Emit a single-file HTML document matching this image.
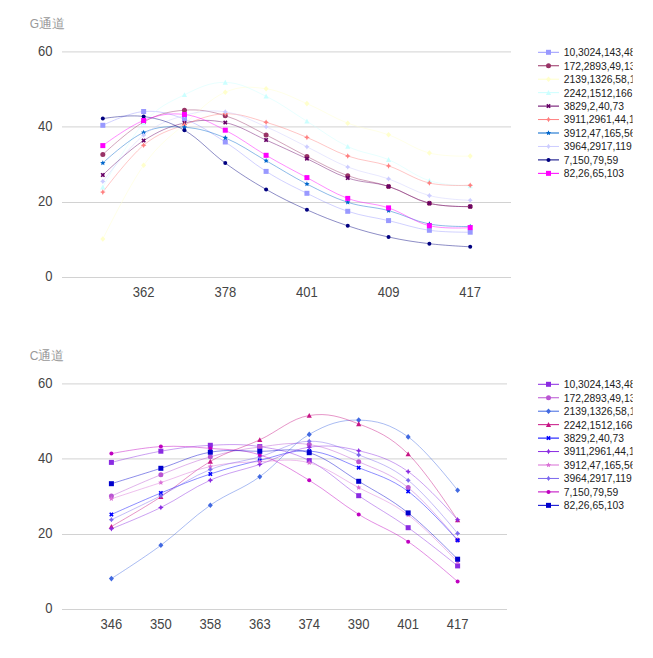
<!DOCTYPE html>
<html><head><meta charset="utf-8"><style>
html,body{margin:0;padding:0;background:#ffffff;width:653px;height:658px;overflow:hidden}
body{position:relative;font-family:'Liberation Sans',sans-serif}
</style></head><body>
<svg width="653" height="658" viewBox="0 0 653 658" style="position:absolute;left:0;top:0;font-family:'Liberation Sans',sans-serif">
<defs><clipPath id="cp"><rect x="0" y="0" width="632.6" height="658"/></clipPath></defs>
<g clip-path="url(#cp)">
<text x="29.8" y="27.5" style="font-size:12px;fill:#999999">G<tspan style="font-size:13px">通道</tspan></text>
<rect x="62" y="51.4" width="449" height="1" fill="#d2d2d2"/>
<text transform="translate(52.5,55.7) scale(0.93,1)" text-anchor="end" style="font-size:14px;fill:#444444">60</text>
<rect x="62" y="126.4" width="449" height="1" fill="#d2d2d2"/>
<text transform="translate(52.5,130.9) scale(0.93,1)" text-anchor="end" style="font-size:14px;fill:#444444">40</text>
<rect x="62" y="202" width="449" height="1" fill="#d2d2d2"/>
<text transform="translate(52.5,206.1) scale(0.93,1)" text-anchor="end" style="font-size:14px;fill:#444444">20</text>
<rect x="62" y="277" width="449" height="1" fill="#d2d2d2"/>
<text transform="translate(52.5,281.3) scale(0.93,1)" text-anchor="end" style="font-size:14px;fill:#444444">0</text>
<text transform="translate(143.64,297.2) scale(0.93,1)" text-anchor="middle" style="font-size:14px;fill:#444444">362</text>
<text transform="translate(225.28,297.2) scale(0.93,1)" text-anchor="middle" style="font-size:14px;fill:#444444">378</text>
<text transform="translate(306.92,297.2) scale(0.93,1)" text-anchor="middle" style="font-size:14px;fill:#444444">401</text>
<text transform="translate(388.56,297.2) scale(0.93,1)" text-anchor="middle" style="font-size:14px;fill:#444444">409</text>
<text transform="translate(470.2,297.2) scale(0.93,1)" text-anchor="middle" style="font-size:14px;fill:#444444">417</text>
<path d="M102.82,125.3C102.82,125.3 128.54,112.65 143.64,111.5C158.74,110.35 169.36,113.46 184.46,119.1C199.56,124.74 210.18,132.32 225.28,142C240.38,151.68 251,161.91 266.1,171.4C281.2,180.89 291.82,185.92 306.92,193.3C322.02,200.68 332.64,206.25 347.74,211.3C362.84,216.35 373.46,217.09 388.56,220.6C403.66,224.11 414.28,228.15 429.38,230.3C444.48,232.45 470.2,232.2 470.2,232.2" fill="none" stroke="#9999FF" stroke-width="0.75" stroke-opacity="0.6"/>
<path d="M102.82,154.6C102.82,154.6 128.54,130.21 143.64,122C158.74,113.79 169.36,111.37 184.46,110.2C199.56,109.03 210.18,111.13 225.28,115.7C240.38,120.27 251,127.37 266.1,134.9C281.2,142.43 291.82,148.85 306.92,156.4C322.02,163.95 332.64,170.15 347.74,175.7C362.84,181.25 373.46,181.29 388.56,186.4C403.66,191.51 414.28,199.56 429.38,203.3C444.48,207.04 470.2,206.6 470.2,206.6" fill="none" stroke="#993366" stroke-width="0.75" stroke-opacity="0.6"/>
<path d="M102.82,239C102.82,239 128.54,186.58 143.64,165.3C158.74,144.03 169.36,137.52 184.46,124C199.56,110.48 210.18,98.71 225.28,92.2C240.38,85.69 251,86.69 266.1,88.8C281.2,90.91 291.82,97.24 306.92,103.6C322.02,109.96 332.64,117.43 347.74,123.2C362.84,128.97 373.46,129.29 388.56,134.8C403.66,140.31 414.28,149.06 429.38,153C444.48,156.94 470.2,156.1 470.2,156.1" fill="none" stroke="#FFFFCC" stroke-width="0.75" stroke-opacity="0.6"/>
<path d="M102.82,187.1C102.82,187.1 128.54,140.08 143.64,123C158.74,105.92 169.36,102.31 184.46,94.8C199.56,87.29 210.18,82.12 225.28,82.4C240.38,82.68 251,89.1 266.1,96.3C281.2,103.5 291.82,112.01 306.92,121.3C322.02,130.59 332.64,139.4 347.74,146.5C362.84,153.6 373.46,153.37 388.56,159.7C403.66,166.03 414.28,175.83 429.38,180.7C444.48,185.57 470.2,186 470.2,186" fill="none" stroke="#CCFFFF" stroke-width="0.75" stroke-opacity="0.6"/>
<path d="M102.82,175C102.82,175 128.54,150.22 143.64,140.6C158.74,130.98 169.36,126.33 184.46,123C199.56,119.67 210.18,119.45 225.28,122.6C240.38,125.74 251,133.32 266.1,140C281.2,146.68 291.82,151.67 306.92,158.7C322.02,165.73 332.64,172.88 347.74,178C362.84,183.12 373.46,181.72 388.56,186.4C403.66,191.08 414.28,199.56 429.38,203.3C444.48,207.04 470.2,206.6 470.2,206.6" fill="none" stroke="#660066" stroke-width="0.75" stroke-opacity="0.6"/>
<path d="M102.82,192.1C102.82,192.1 128.54,157.67 143.64,145.2C158.74,132.73 169.36,130.51 184.46,124.7C199.56,118.89 210.18,114.24 225.28,113.8C240.38,113.36 251,117.93 266.1,122.3C281.2,126.67 291.82,131.17 306.92,137.4C322.02,143.63 332.64,150.73 347.74,156C362.84,161.27 373.46,160.91 388.56,165.9C403.66,170.9 414.28,179.43 429.38,183C444.48,186.57 470.2,185.2 470.2,185.2" fill="none" stroke="#FF8080" stroke-width="0.75" stroke-opacity="0.6"/>
<path d="M102.82,163C102.82,163 128.54,139.1 143.64,132.5C158.74,125.9 169.36,126.3 184.46,127.3C199.56,128.3 210.18,131.72 225.28,137.9C240.38,144.08 251,152.17 266.1,160.7C281.2,169.23 291.82,176.3 306.92,184C322.02,191.7 332.64,197.38 347.74,202.3C362.84,207.22 373.46,206.59 388.56,210.6C403.66,214.61 414.28,221.06 429.38,224C444.48,226.94 470.2,226.5 470.2,226.5" fill="none" stroke="#0066CC" stroke-width="0.75" stroke-opacity="0.6"/>
<path d="M102.82,181.4C102.82,181.4 128.54,147.39 143.64,135.2C158.74,123.01 169.36,119.81 184.46,115.5C199.56,111.19 210.18,109.81 225.28,111.9C240.38,113.99 251,120.34 266.1,126.8C281.2,133.26 291.82,139.36 306.92,146.8C322.02,154.24 332.64,161.06 347.74,167C362.84,172.94 373.46,173.61 388.56,178.9C403.66,184.19 414.28,191.64 429.38,195.6C444.48,199.56 470.2,200.3 470.2,200.3" fill="none" stroke="#CCCCFF" stroke-width="0.75" stroke-opacity="0.6"/>
<path d="M102.82,118.6C102.82,118.6 128.54,114.34 143.64,116.5C158.74,118.66 169.36,121.68 184.46,130.3C199.56,138.92 210.18,152.17 225.28,163.1C240.38,174.03 251,180.76 266.1,189.4C281.2,198.04 291.82,203.07 306.92,209.8C322.02,216.53 332.64,220.77 347.74,225.8C362.84,230.83 373.46,233.69 388.56,237C403.66,240.31 414.28,241.89 429.38,243.7C444.48,245.51 470.2,246.8 470.2,246.8" fill="none" stroke="#000080" stroke-width="0.75" stroke-opacity="0.6"/>
<path d="M102.82,145.6C102.82,145.6 128.54,126.25 143.64,120.5C158.74,114.75 169.36,112.71 184.46,114.5C199.56,116.29 210.18,122.65 225.28,130.2C240.38,137.75 251,146.53 266.1,155.3C281.2,164.07 291.82,169.63 306.92,177.6C322.02,185.57 332.64,192.79 347.74,198.4C362.84,204.01 373.46,202.85 388.56,207.9C403.66,212.95 414.28,222.06 429.38,225.7C444.48,229.34 470.2,227.6 470.2,227.6" fill="none" stroke="#FF00FF" stroke-width="0.75" stroke-opacity="0.6"/>
<rect x="100.32" y="122.8" width="5" height="5" fill="#9999FF"/>
<rect x="141.14" y="109" width="5" height="5" fill="#9999FF"/>
<rect x="181.96" y="116.6" width="5" height="5" fill="#9999FF"/>
<rect x="222.78" y="139.5" width="5" height="5" fill="#9999FF"/>
<rect x="263.6" y="168.9" width="5" height="5" fill="#9999FF"/>
<rect x="304.42" y="190.8" width="5" height="5" fill="#9999FF"/>
<rect x="345.24" y="208.8" width="5" height="5" fill="#9999FF"/>
<rect x="386.06" y="218.1" width="5" height="5" fill="#9999FF"/>
<rect x="426.88" y="227.8" width="5" height="5" fill="#9999FF"/>
<rect x="467.7" y="229.7" width="5" height="5" fill="#9999FF"/>
<circle cx="102.82" cy="154.6" r="2.5" fill="#993366"/>
<circle cx="143.64" cy="122" r="2.5" fill="#993366"/>
<circle cx="184.46" cy="110.2" r="2.5" fill="#993366"/>
<circle cx="225.28" cy="115.7" r="2.5" fill="#993366"/>
<circle cx="266.1" cy="134.9" r="2.5" fill="#993366"/>
<circle cx="306.92" cy="156.4" r="2.5" fill="#993366"/>
<circle cx="347.74" cy="175.7" r="2.5" fill="#993366"/>
<circle cx="388.56" cy="186.4" r="2.5" fill="#993366"/>
<circle cx="429.38" cy="203.3" r="2.5" fill="#993366"/>
<circle cx="470.2" cy="206.6" r="2.5" fill="#993366"/>
<polygon points="102.82,236.2 105.32,239 102.82,241.8 100.32,239" fill="#FFFFCC"/>
<polygon points="143.64,162.5 146.14,165.3 143.64,168.1 141.14,165.3" fill="#FFFFCC"/>
<polygon points="184.46,121.2 186.96,124 184.46,126.8 181.96,124" fill="#FFFFCC"/>
<polygon points="225.28,89.4 227.78,92.2 225.28,95 222.78,92.2" fill="#FFFFCC"/>
<polygon points="266.1,86 268.6,88.8 266.1,91.6 263.6,88.8" fill="#FFFFCC"/>
<polygon points="306.92,100.8 309.42,103.6 306.92,106.4 304.42,103.6" fill="#FFFFCC"/>
<polygon points="347.74,120.4 350.24,123.2 347.74,126 345.24,123.2" fill="#FFFFCC"/>
<polygon points="388.56,132 391.06,134.8 388.56,137.6 386.06,134.8" fill="#FFFFCC"/>
<polygon points="429.38,150.2 431.88,153 429.38,155.8 426.88,153" fill="#FFFFCC"/>
<polygon points="470.2,153.3 472.7,156.1 470.2,158.9 467.7,156.1" fill="#FFFFCC"/>
<polygon points="102.82,184.5 105.42,189.4 100.22,189.4" fill="#CCFFFF"/>
<polygon points="143.64,120.4 146.24,125.3 141.04,125.3" fill="#CCFFFF"/>
<polygon points="184.46,92.2 187.06,97.1 181.86,97.1" fill="#CCFFFF"/>
<polygon points="225.28,79.8 227.88,84.7 222.68,84.7" fill="#CCFFFF"/>
<polygon points="266.1,93.7 268.7,98.6 263.5,98.6" fill="#CCFFFF"/>
<polygon points="306.92,118.7 309.52,123.6 304.32,123.6" fill="#CCFFFF"/>
<polygon points="347.74,143.9 350.34,148.8 345.14,148.8" fill="#CCFFFF"/>
<polygon points="388.56,157.1 391.16,162 385.96,162" fill="#CCFFFF"/>
<polygon points="429.38,178.1 431.98,183 426.78,183" fill="#CCFFFF"/>
<polygon points="470.2,183.4 472.8,188.3 467.6,188.3" fill="#CCFFFF"/>
<polygon points="105.08,173.87 103.95,175 105.08,176.13 103.95,177.26 102.82,176.13 101.69,177.26 100.56,176.13 101.69,175 100.56,173.87 101.69,172.74 102.82,173.87 103.95,172.74" fill="#660066"/>
<polygon points="145.9,139.47 144.77,140.6 145.9,141.73 144.77,142.86 143.64,141.73 142.51,142.86 141.38,141.73 142.51,140.6 141.38,139.47 142.51,138.34 143.64,139.47 144.77,138.34" fill="#660066"/>
<polygon points="186.72,121.87 185.59,123 186.72,124.13 185.59,125.26 184.46,124.13 183.33,125.26 182.2,124.13 183.33,123 182.2,121.87 183.33,120.74 184.46,121.87 185.59,120.74" fill="#660066"/>
<polygon points="227.54,121.47 226.41,122.6 227.54,123.73 226.41,124.86 225.28,123.73 224.15,124.86 223.02,123.73 224.15,122.6 223.02,121.47 224.15,120.34 225.28,121.47 226.41,120.34" fill="#660066"/>
<polygon points="268.36,138.87 267.23,140 268.36,141.13 267.23,142.26 266.1,141.13 264.97,142.26 263.84,141.13 264.97,140 263.84,138.87 264.97,137.74 266.1,138.87 267.23,137.74" fill="#660066"/>
<polygon points="309.18,157.57 308.05,158.7 309.18,159.83 308.05,160.96 306.92,159.83 305.79,160.96 304.66,159.83 305.79,158.7 304.66,157.57 305.79,156.44 306.92,157.57 308.05,156.44" fill="#660066"/>
<polygon points="350,176.87 348.87,178 350,179.13 348.87,180.26 347.74,179.13 346.61,180.26 345.48,179.13 346.61,178 345.48,176.87 346.61,175.74 347.74,176.87 348.87,175.74" fill="#660066"/>
<polygon points="390.82,185.27 389.69,186.4 390.82,187.53 389.69,188.66 388.56,187.53 387.43,188.66 386.3,187.53 387.43,186.4 386.3,185.27 387.43,184.14 388.56,185.27 389.69,184.14" fill="#660066"/>
<polygon points="431.64,202.17 430.51,203.3 431.64,204.43 430.51,205.56 429.38,204.43 428.25,205.56 427.12,204.43 428.25,203.3 427.12,202.17 428.25,201.04 429.38,202.17 430.51,201.04" fill="#660066"/>
<polygon points="472.46,205.47 471.33,206.6 472.46,207.73 471.33,208.86 470.2,207.73 469.07,208.86 467.94,207.73 469.07,206.6 467.94,205.47 469.07,204.34 470.2,205.47 471.33,204.34" fill="#660066"/>
<polygon points="102.82,189.3 103.77,191.15 105.62,192.1 103.77,193.05 102.82,194.9 101.87,193.05 100.02,192.1 101.87,191.15" fill="#FF8080"/>
<polygon points="143.64,142.4 144.59,144.25 146.44,145.2 144.59,146.15 143.64,148 142.69,146.15 140.84,145.2 142.69,144.25" fill="#FF8080"/>
<polygon points="184.46,121.9 185.41,123.75 187.26,124.7 185.41,125.65 184.46,127.5 183.51,125.65 181.66,124.7 183.51,123.75" fill="#FF8080"/>
<polygon points="225.28,111 226.23,112.85 228.08,113.8 226.23,114.75 225.28,116.6 224.33,114.75 222.48,113.8 224.33,112.85" fill="#FF8080"/>
<polygon points="266.1,119.5 267.05,121.35 268.9,122.3 267.05,123.25 266.1,125.1 265.15,123.25 263.3,122.3 265.15,121.35" fill="#FF8080"/>
<polygon points="306.92,134.6 307.87,136.45 309.72,137.4 307.87,138.35 306.92,140.2 305.97,138.35 304.12,137.4 305.97,136.45" fill="#FF8080"/>
<polygon points="347.74,153.2 348.69,155.05 350.54,156 348.69,156.95 347.74,158.8 346.79,156.95 344.94,156 346.79,155.05" fill="#FF8080"/>
<polygon points="388.56,163.1 389.51,164.95 391.36,165.9 389.51,166.85 388.56,168.7 387.61,166.85 385.76,165.9 387.61,164.95" fill="#FF8080"/>
<polygon points="429.38,180.2 430.33,182.05 432.18,183 430.33,183.95 429.38,185.8 428.43,183.95 426.58,183 428.43,182.05" fill="#FF8080"/>
<polygon points="470.2,182.4 471.15,184.25 473,185.2 471.15,186.15 470.2,188 469.25,186.15 467.4,185.2 469.25,184.25" fill="#FF8080"/>
<polygon points="102.82,160.2 103.58,161.95 105.48,162.13 104.06,163.4 104.47,165.27 102.82,164.3 101.17,165.27 101.58,163.4 100.16,162.13 102.06,161.95" fill="#0066CC"/>
<polygon points="143.64,129.7 144.4,131.45 146.3,131.63 144.88,132.9 145.29,134.77 143.64,133.8 141.99,134.77 142.4,132.9 140.98,131.63 142.88,131.45" fill="#0066CC"/>
<polygon points="184.46,124.5 185.22,126.25 187.12,126.43 185.7,127.7 186.11,129.57 184.46,128.6 182.81,129.57 183.22,127.7 181.8,126.43 183.7,126.25" fill="#0066CC"/>
<polygon points="225.28,135.1 226.04,136.85 227.94,137.03 226.52,138.3 226.93,140.17 225.28,139.2 223.63,140.17 224.04,138.3 222.62,137.03 224.52,136.85" fill="#0066CC"/>
<polygon points="266.1,157.9 266.86,159.65 268.76,159.83 267.34,161.1 267.75,162.97 266.1,162 264.45,162.97 264.86,161.1 263.44,159.83 265.34,159.65" fill="#0066CC"/>
<polygon points="306.92,181.2 307.68,182.95 309.58,183.13 308.16,184.4 308.57,186.27 306.92,185.3 305.27,186.27 305.68,184.4 304.26,183.13 306.16,182.95" fill="#0066CC"/>
<polygon points="347.74,199.5 348.5,201.25 350.4,201.43 348.98,202.7 349.39,204.57 347.74,203.6 346.09,204.57 346.5,202.7 345.08,201.43 346.98,201.25" fill="#0066CC"/>
<polygon points="388.56,207.8 389.32,209.55 391.22,209.73 389.8,211 390.21,212.87 388.56,211.9 386.91,212.87 387.32,211 385.9,209.73 387.8,209.55" fill="#0066CC"/>
<polygon points="429.38,221.2 430.14,222.95 432.04,223.13 430.62,224.4 431.03,226.27 429.38,225.3 427.73,226.27 428.14,224.4 426.72,223.13 428.62,222.95" fill="#0066CC"/>
<polygon points="470.2,223.7 470.96,225.45 472.86,225.63 471.44,226.9 471.85,228.77 470.2,227.8 468.55,228.77 468.96,226.9 467.54,225.63 469.44,225.45" fill="#0066CC"/>
<polygon points="102.82,178.8 103.88,180.34 105.42,181.4 103.88,182.46 102.82,184 101.76,182.46 100.22,181.4 101.76,180.34" fill="#CCCCFF"/>
<polygon points="143.64,132.6 144.7,134.14 146.24,135.2 144.7,136.26 143.64,137.8 142.58,136.26 141.04,135.2 142.58,134.14" fill="#CCCCFF"/>
<polygon points="184.46,112.9 185.52,114.44 187.06,115.5 185.52,116.56 184.46,118.1 183.4,116.56 181.86,115.5 183.4,114.44" fill="#CCCCFF"/>
<polygon points="225.28,109.3 226.34,110.84 227.88,111.9 226.34,112.96 225.28,114.5 224.22,112.96 222.68,111.9 224.22,110.84" fill="#CCCCFF"/>
<polygon points="266.1,124.2 267.16,125.74 268.7,126.8 267.16,127.86 266.1,129.4 265.04,127.86 263.5,126.8 265.04,125.74" fill="#CCCCFF"/>
<polygon points="306.92,144.2 307.98,145.74 309.52,146.8 307.98,147.86 306.92,149.4 305.86,147.86 304.32,146.8 305.86,145.74" fill="#CCCCFF"/>
<polygon points="347.74,164.4 348.8,165.94 350.34,167 348.8,168.06 347.74,169.6 346.68,168.06 345.14,167 346.68,165.94" fill="#CCCCFF"/>
<polygon points="388.56,176.3 389.62,177.84 391.16,178.9 389.62,179.96 388.56,181.5 387.5,179.96 385.96,178.9 387.5,177.84" fill="#CCCCFF"/>
<polygon points="429.38,193 430.44,194.54 431.98,195.6 430.44,196.66 429.38,198.2 428.32,196.66 426.78,195.6 428.32,194.54" fill="#CCCCFF"/>
<polygon points="470.2,197.7 471.26,199.24 472.8,200.3 471.26,201.36 470.2,202.9 469.14,201.36 467.6,200.3 469.14,199.24" fill="#CCCCFF"/>
<circle cx="102.82" cy="118.6" r="2.0" fill="#000080"/>
<circle cx="143.64" cy="116.5" r="2.0" fill="#000080"/>
<circle cx="184.46" cy="130.3" r="2.0" fill="#000080"/>
<circle cx="225.28" cy="163.1" r="2.0" fill="#000080"/>
<circle cx="266.1" cy="189.4" r="2.0" fill="#000080"/>
<circle cx="306.92" cy="209.8" r="2.0" fill="#000080"/>
<circle cx="347.74" cy="225.8" r="2.0" fill="#000080"/>
<circle cx="388.56" cy="237" r="2.0" fill="#000080"/>
<circle cx="429.38" cy="243.7" r="2.0" fill="#000080"/>
<circle cx="470.2" cy="246.8" r="2.0" fill="#000080"/>
<rect x="100.32" y="143.1" width="5" height="5" fill="#FF00FF"/>
<rect x="141.14" y="118" width="5" height="5" fill="#FF00FF"/>
<rect x="181.96" y="112" width="5" height="5" fill="#FF00FF"/>
<rect x="222.78" y="127.7" width="5" height="5" fill="#FF00FF"/>
<rect x="263.6" y="152.8" width="5" height="5" fill="#FF00FF"/>
<rect x="304.42" y="175.1" width="5" height="5" fill="#FF00FF"/>
<rect x="345.24" y="195.9" width="5" height="5" fill="#FF00FF"/>
<rect x="386.06" y="205.4" width="5" height="5" fill="#FF00FF"/>
<rect x="426.88" y="223.2" width="5" height="5" fill="#FF00FF"/>
<rect x="467.7" y="225.1" width="5" height="5" fill="#FF00FF"/>
<rect x="538" y="51.8" width="21" height="1" fill="#9999FF"/>
<rect x="546" y="49.8" width="5" height="5" fill="#9999FF"/>
<text transform="translate(563.7,56.2) scale(0.94,1)" style="font-size:11px;fill:#222222">10,3024,143,48,</text>
<rect x="538" y="65.25" width="21" height="1" fill="#993366"/>
<circle cx="548.5" cy="65.75" r="2.5" fill="#993366"/>
<text transform="translate(563.7,69.65) scale(0.94,1)" style="font-size:11px;fill:#222222">172,2893,49,13,</text>
<rect x="538" y="78.7" width="21" height="1" fill="#FFFFCC"/>
<polygon points="548.5,76.4 551,79.2 548.5,82 546,79.2" fill="#FFFFCC"/>
<text transform="translate(563.7,83.1) scale(0.94,1)" style="font-size:11px;fill:#222222">2139,1326,58,1,</text>
<rect x="538" y="92.15" width="21" height="1" fill="#CCFFFF"/>
<polygon points="548.5,90.05 551.1,94.95 545.9,94.95" fill="#CCFFFF"/>
<text transform="translate(563.7,96.55) scale(0.94,1)" style="font-size:11px;fill:#222222">2242,1512,166,</text>
<rect x="538" y="105.6" width="21" height="1" fill="#660066"/>
<polygon points="550.76,104.97 549.63,106.1 550.76,107.23 549.63,108.36 548.5,107.23 547.37,108.36 546.24,107.23 547.37,106.1 546.24,104.97 547.37,103.84 548.5,104.97 549.63,103.84" fill="#660066"/>
<text transform="translate(563.7,110) scale(0.94,1)" style="font-size:11px;fill:#222222">3829,2,40,73</text>
<rect x="538" y="119.05" width="21" height="1" fill="#FF8080"/>
<polygon points="548.5,116.75 549.45,118.6 551.3,119.55 549.45,120.5 548.5,122.35 547.55,120.5 545.7,119.55 547.55,118.6" fill="#FF8080"/>
<text transform="translate(563.7,123.45) scale(0.94,1)" style="font-size:11px;fill:#222222">3911,2961,44,1,</text>
<rect x="538" y="132.5" width="21" height="1" fill="#0066CC"/>
<polygon points="548.5,130.2 549.26,131.95 551.16,132.13 549.74,133.4 550.15,135.27 548.5,134.3 546.85,135.27 547.26,133.4 545.84,132.13 547.74,131.95" fill="#0066CC"/>
<text transform="translate(563.7,136.9) scale(0.94,1)" style="font-size:11px;fill:#222222">3912,47,165,56,</text>
<rect x="538" y="145.95" width="21" height="1" fill="#CCCCFF"/>
<polygon points="548.5,143.85 549.56,145.39 551.1,146.45 549.56,147.51 548.5,149.05 547.44,147.51 545.9,146.45 547.44,145.39" fill="#CCCCFF"/>
<text transform="translate(563.7,150.35) scale(0.94,1)" style="font-size:11px;fill:#222222">3964,2917,119</text>
<rect x="538" y="159.4" width="21" height="1" fill="#000080"/>
<circle cx="548.5" cy="159.9" r="2.0" fill="#000080"/>
<text transform="translate(563.7,163.8) scale(0.94,1)" style="font-size:11px;fill:#222222">7,150,79,59</text>
<rect x="538" y="172.85" width="21" height="1" fill="#FF00FF"/>
<rect x="546" y="170.85" width="5" height="5" fill="#FF00FF"/>
<text transform="translate(563.7,177.25) scale(0.94,1)" style="font-size:11px;fill:#222222">82,26,65,103</text>
<text x="29.8" y="359.5" style="font-size:12px;fill:#999999">C<tspan style="font-size:13px">通道</tspan></text>
<rect x="62" y="383.4" width="445" height="1" fill="#d2d2d2"/>
<text transform="translate(52.5,387.7) scale(0.93,1)" text-anchor="end" style="font-size:14px;fill:#444444">60</text>
<rect x="62" y="458.4" width="445" height="1" fill="#d2d2d2"/>
<text transform="translate(52.5,462.9) scale(0.93,1)" text-anchor="end" style="font-size:14px;fill:#444444">40</text>
<rect x="62" y="534" width="445" height="1" fill="#d2d2d2"/>
<text transform="translate(52.5,538.1) scale(0.93,1)" text-anchor="end" style="font-size:14px;fill:#444444">20</text>
<rect x="62" y="609" width="445" height="1" fill="#d2d2d2"/>
<text transform="translate(52.5,613.3) scale(0.93,1)" text-anchor="end" style="font-size:14px;fill:#444444">0</text>
<text transform="translate(111.4,629.2) scale(0.93,1)" text-anchor="middle" style="font-size:14px;fill:#444444">346</text>
<text transform="translate(160.86,629.2) scale(0.93,1)" text-anchor="middle" style="font-size:14px;fill:#444444">350</text>
<text transform="translate(210.32,629.2) scale(0.93,1)" text-anchor="middle" style="font-size:14px;fill:#444444">358</text>
<text transform="translate(259.78,629.2) scale(0.93,1)" text-anchor="middle" style="font-size:14px;fill:#444444">363</text>
<text transform="translate(309.24,629.2) scale(0.93,1)" text-anchor="middle" style="font-size:14px;fill:#444444">374</text>
<text transform="translate(358.7,629.2) scale(0.93,1)" text-anchor="middle" style="font-size:14px;fill:#444444">390</text>
<text transform="translate(408.16,629.2) scale(0.93,1)" text-anchor="middle" style="font-size:14px;fill:#444444">401</text>
<text transform="translate(457.62,629.2) scale(0.93,1)" text-anchor="middle" style="font-size:14px;fill:#444444">417</text>
<path d="M111.4,462.4C111.4,462.4 142.56,454.36 160.86,451.2C179.16,448.04 192.02,446.15 210.32,445.3C228.62,444.45 241.48,443.77 259.78,446.6C278.08,449.43 290.94,451.52 309.24,460.6C327.54,469.68 340.4,483.29 358.7,495.7C377,508.11 389.86,514.71 408.16,527.7C426.46,540.69 457.62,565.9 457.62,565.9" fill="none" stroke="#8A2BE2" stroke-width="0.75" stroke-opacity="0.6"/>
<path d="M111.4,496.1C111.4,496.1 142.56,482.07 160.86,474.8C179.16,467.53 192.02,461.94 210.32,456.8C228.62,451.66 241.48,449.28 259.78,447C278.08,444.72 290.94,441.76 309.24,444.5C327.54,447.24 340.4,453.83 358.7,461.8C377,469.77 389.86,473.13 408.16,487.6C426.46,502.07 457.62,540 457.62,540" fill="none" stroke="#BA55D3" stroke-width="0.75" stroke-opacity="0.6"/>
<path d="M111.4,578.6C111.4,578.6 142.56,558.88 160.86,545.3C179.16,531.72 192.02,517.89 210.32,505.2C228.62,492.51 241.48,489.8 259.78,476.7C278.08,463.6 290.94,444.87 309.24,434.4C327.54,423.93 340.4,419.64 358.7,420.1C377,420.56 389.86,423.91 408.16,436.9C426.46,449.89 457.62,490.3 457.62,490.3" fill="none" stroke="#4169E1" stroke-width="0.75" stroke-opacity="0.6"/>
<path d="M111.4,526.5C111.4,526.5 142.56,508.84 160.86,496.8C179.16,484.76 192.02,471.94 210.32,461.4C228.62,450.85 241.48,448.29 259.78,439.8C278.08,431.31 290.94,418.44 309.24,415.5C327.54,412.56 340.4,416.78 358.7,423.9C377,431.02 389.86,436.22 408.16,454C426.46,471.78 457.62,520 457.62,520" fill="none" stroke="#C71585" stroke-width="0.75" stroke-opacity="0.6"/>
<path d="M111.4,514.5C111.4,514.5 142.56,500.49 160.86,493C179.16,485.51 192.02,480.05 210.32,474C228.62,467.95 241.48,464.56 259.78,460.3C278.08,456.05 290.94,449.63 309.24,451C327.54,452.37 340.4,460.23 358.7,467.7C377,475.17 389.86,477.97 408.16,491.4C426.46,504.83 457.62,540.3 457.62,540.3" fill="none" stroke="#0000FF" stroke-width="0.75" stroke-opacity="0.6"/>
<path d="M111.4,528.8C111.4,528.8 142.56,516.49 160.86,507.5C179.16,498.51 192.02,488.17 210.32,480.2C228.62,472.23 241.48,470.5 259.78,464.4C278.08,458.29 290.94,449.73 309.24,447.2C327.54,444.67 340.4,446.19 358.7,450.7C377,455.21 389.86,458.82 408.16,471.6C426.46,484.38 457.62,519.8 457.62,519.8" fill="none" stroke="#8A2BE2" stroke-width="0.75" stroke-opacity="0.6"/>
<path d="M111.4,498.8C111.4,498.8 142.56,488.58 160.86,482.6C179.16,476.62 192.02,470.37 210.32,466.5C228.62,462.63 241.48,462.38 259.78,461.7C278.08,461.02 290.94,458.01 309.24,462.8C327.54,467.59 340.4,477.94 358.7,487.6C377,497.26 389.86,501.24 408.16,515C426.46,528.76 457.62,562 457.62,562" fill="none" stroke="#DA70D6" stroke-width="0.75" stroke-opacity="0.6"/>
<path d="M111.4,519.7C111.4,519.7 142.56,504.99 160.86,495.7C179.16,486.41 192.02,476.7 210.32,469.5C228.62,462.3 241.48,462.04 259.78,456.8C278.08,451.56 290.94,441.55 309.24,441.2C327.54,440.85 340.4,447.67 358.7,454.9C377,462.13 389.86,465.78 408.16,480.3C426.46,494.82 457.62,533.4 457.62,533.4" fill="none" stroke="#7B68EE" stroke-width="0.75" stroke-opacity="0.6"/>
<path d="M111.4,453.6C111.4,453.6 142.56,447.56 160.86,446.6C179.16,445.64 192.02,446.86 210.32,448.4C228.62,449.94 241.48,449 259.78,454.9C278.08,460.8 290.94,469.29 309.24,480.3C327.54,491.31 340.4,503.04 358.7,514.4C377,525.76 389.86,529.27 408.16,541.7C426.46,554.13 457.62,581.6 457.62,581.6" fill="none" stroke="#C000C0" stroke-width="0.75" stroke-opacity="0.6"/>
<path d="M111.4,483.7C111.4,483.7 142.56,474.13 160.86,468.3C179.16,462.47 192.02,455.34 210.32,452.2C228.62,449.06 241.48,451.21 259.78,451.3C278.08,451.39 290.94,447.15 309.24,452.7C327.54,458.25 340.4,470.16 358.7,481.3C377,492.44 389.86,498.49 408.16,512.9C426.46,527.31 457.62,559.2 457.62,559.2" fill="none" stroke="#0000CD" stroke-width="0.75" stroke-opacity="0.6"/>
<rect x="108.9" y="459.9" width="5" height="5" fill="#8A2BE2"/>
<rect x="158.36" y="448.7" width="5" height="5" fill="#8A2BE2"/>
<rect x="207.82" y="442.8" width="5" height="5" fill="#8A2BE2"/>
<rect x="257.28" y="444.1" width="5" height="5" fill="#8A2BE2"/>
<rect x="306.74" y="458.1" width="5" height="5" fill="#8A2BE2"/>
<rect x="356.2" y="493.2" width="5" height="5" fill="#8A2BE2"/>
<rect x="405.66" y="525.2" width="5" height="5" fill="#8A2BE2"/>
<rect x="455.12" y="563.4" width="5" height="5" fill="#8A2BE2"/>
<circle cx="111.4" cy="496.1" r="2.5" fill="#BA55D3"/>
<circle cx="160.86" cy="474.8" r="2.5" fill="#BA55D3"/>
<circle cx="210.32" cy="456.8" r="2.5" fill="#BA55D3"/>
<circle cx="259.78" cy="447" r="2.5" fill="#BA55D3"/>
<circle cx="309.24" cy="444.5" r="2.5" fill="#BA55D3"/>
<circle cx="358.7" cy="461.8" r="2.5" fill="#BA55D3"/>
<circle cx="408.16" cy="487.6" r="2.5" fill="#BA55D3"/>
<circle cx="457.62" cy="540" r="2.5" fill="#BA55D3"/>
<polygon points="111.4,575.8 113.9,578.6 111.4,581.4 108.9,578.6" fill="#4169E1"/>
<polygon points="160.86,542.5 163.36,545.3 160.86,548.1 158.36,545.3" fill="#4169E1"/>
<polygon points="210.32,502.4 212.82,505.2 210.32,508 207.82,505.2" fill="#4169E1"/>
<polygon points="259.78,473.9 262.28,476.7 259.78,479.5 257.28,476.7" fill="#4169E1"/>
<polygon points="309.24,431.6 311.74,434.4 309.24,437.2 306.74,434.4" fill="#4169E1"/>
<polygon points="358.7,417.3 361.2,420.1 358.7,422.9 356.2,420.1" fill="#4169E1"/>
<polygon points="408.16,434.1 410.66,436.9 408.16,439.7 405.66,436.9" fill="#4169E1"/>
<polygon points="457.62,487.5 460.12,490.3 457.62,493.1 455.12,490.3" fill="#4169E1"/>
<polygon points="111.4,523.9 114,528.8 108.8,528.8" fill="#C71585"/>
<polygon points="160.86,494.2 163.46,499.1 158.26,499.1" fill="#C71585"/>
<polygon points="210.32,458.8 212.92,463.7 207.72,463.7" fill="#C71585"/>
<polygon points="259.78,437.2 262.38,442.1 257.18,442.1" fill="#C71585"/>
<polygon points="309.24,412.9 311.84,417.8 306.64,417.8" fill="#C71585"/>
<polygon points="358.7,421.3 361.3,426.2 356.1,426.2" fill="#C71585"/>
<polygon points="408.16,451.4 410.76,456.3 405.56,456.3" fill="#C71585"/>
<polygon points="457.62,517.4 460.22,522.3 455.02,522.3" fill="#C71585"/>
<polygon points="113.66,513.37 112.53,514.5 113.66,515.63 112.53,516.76 111.4,515.63 110.27,516.76 109.14,515.63 110.27,514.5 109.14,513.37 110.27,512.24 111.4,513.37 112.53,512.24" fill="#0000FF"/>
<polygon points="163.12,491.87 161.99,493 163.12,494.13 161.99,495.26 160.86,494.13 159.73,495.26 158.6,494.13 159.73,493 158.6,491.87 159.73,490.74 160.86,491.87 161.99,490.74" fill="#0000FF"/>
<polygon points="212.58,472.87 211.45,474 212.58,475.13 211.45,476.26 210.32,475.13 209.19,476.26 208.06,475.13 209.19,474 208.06,472.87 209.19,471.74 210.32,472.87 211.45,471.74" fill="#0000FF"/>
<polygon points="262.04,459.17 260.91,460.3 262.04,461.43 260.91,462.56 259.78,461.43 258.65,462.56 257.52,461.43 258.65,460.3 257.52,459.17 258.65,458.04 259.78,459.17 260.91,458.04" fill="#0000FF"/>
<polygon points="311.5,449.87 310.37,451 311.5,452.13 310.37,453.26 309.24,452.13 308.11,453.26 306.98,452.13 308.11,451 306.98,449.87 308.11,448.74 309.24,449.87 310.37,448.74" fill="#0000FF"/>
<polygon points="360.96,466.57 359.83,467.7 360.96,468.83 359.83,469.96 358.7,468.83 357.57,469.96 356.44,468.83 357.57,467.7 356.44,466.57 357.57,465.44 358.7,466.57 359.83,465.44" fill="#0000FF"/>
<polygon points="410.42,490.27 409.29,491.4 410.42,492.53 409.29,493.66 408.16,492.53 407.03,493.66 405.9,492.53 407.03,491.4 405.9,490.27 407.03,489.14 408.16,490.27 409.29,489.14" fill="#0000FF"/>
<polygon points="459.88,539.17 458.75,540.3 459.88,541.43 458.75,542.56 457.62,541.43 456.49,542.56 455.36,541.43 456.49,540.3 455.36,539.17 456.49,538.04 457.62,539.17 458.75,538.04" fill="#0000FF"/>
<polygon points="111.4,526 112.35,527.85 114.2,528.8 112.35,529.75 111.4,531.6 110.45,529.75 108.6,528.8 110.45,527.85" fill="#8A2BE2"/>
<polygon points="160.86,504.7 161.81,506.55 163.66,507.5 161.81,508.45 160.86,510.3 159.91,508.45 158.06,507.5 159.91,506.55" fill="#8A2BE2"/>
<polygon points="210.32,477.4 211.27,479.25 213.12,480.2 211.27,481.15 210.32,483 209.37,481.15 207.52,480.2 209.37,479.25" fill="#8A2BE2"/>
<polygon points="259.78,461.6 260.73,463.45 262.58,464.4 260.73,465.35 259.78,467.2 258.83,465.35 256.98,464.4 258.83,463.45" fill="#8A2BE2"/>
<polygon points="309.24,444.4 310.19,446.25 312.04,447.2 310.19,448.15 309.24,450 308.29,448.15 306.44,447.2 308.29,446.25" fill="#8A2BE2"/>
<polygon points="358.7,447.9 359.65,449.75 361.5,450.7 359.65,451.65 358.7,453.5 357.75,451.65 355.9,450.7 357.75,449.75" fill="#8A2BE2"/>
<polygon points="408.16,468.8 409.11,470.65 410.96,471.6 409.11,472.55 408.16,474.4 407.21,472.55 405.36,471.6 407.21,470.65" fill="#8A2BE2"/>
<polygon points="457.62,517 458.57,518.85 460.42,519.8 458.57,520.75 457.62,522.6 456.67,520.75 454.82,519.8 456.67,518.85" fill="#8A2BE2"/>
<polygon points="111.4,496 112.16,497.75 114.06,497.93 112.64,499.2 113.05,501.07 111.4,500.1 109.75,501.07 110.16,499.2 108.74,497.93 110.64,497.75" fill="#DA70D6"/>
<polygon points="160.86,479.8 161.62,481.55 163.52,481.73 162.1,483 162.51,484.87 160.86,483.9 159.21,484.87 159.62,483 158.2,481.73 160.1,481.55" fill="#DA70D6"/>
<polygon points="210.32,463.7 211.08,465.45 212.98,465.63 211.56,466.9 211.97,468.77 210.32,467.8 208.67,468.77 209.08,466.9 207.66,465.63 209.56,465.45" fill="#DA70D6"/>
<polygon points="259.78,458.9 260.54,460.65 262.44,460.83 261.02,462.1 261.43,463.97 259.78,463 258.13,463.97 258.54,462.1 257.12,460.83 259.02,460.65" fill="#DA70D6"/>
<polygon points="309.24,460 310,461.75 311.9,461.93 310.48,463.2 310.89,465.07 309.24,464.1 307.59,465.07 308,463.2 306.58,461.93 308.48,461.75" fill="#DA70D6"/>
<polygon points="358.7,484.8 359.46,486.55 361.36,486.73 359.94,488 360.35,489.87 358.7,488.9 357.05,489.87 357.46,488 356.04,486.73 357.94,486.55" fill="#DA70D6"/>
<polygon points="408.16,512.2 408.92,513.95 410.82,514.13 409.4,515.4 409.81,517.27 408.16,516.3 406.51,517.27 406.92,515.4 405.5,514.13 407.4,513.95" fill="#DA70D6"/>
<polygon points="457.62,559.2 458.38,560.95 460.28,561.13 458.86,562.4 459.27,564.27 457.62,563.3 455.97,564.27 456.38,562.4 454.96,561.13 456.86,560.95" fill="#DA70D6"/>
<polygon points="111.4,517.1 112.46,518.64 114,519.7 112.46,520.76 111.4,522.3 110.34,520.76 108.8,519.7 110.34,518.64" fill="#7B68EE"/>
<polygon points="160.86,493.1 161.92,494.64 163.46,495.7 161.92,496.76 160.86,498.3 159.8,496.76 158.26,495.7 159.8,494.64" fill="#7B68EE"/>
<polygon points="210.32,466.9 211.38,468.44 212.92,469.5 211.38,470.56 210.32,472.1 209.26,470.56 207.72,469.5 209.26,468.44" fill="#7B68EE"/>
<polygon points="259.78,454.2 260.84,455.74 262.38,456.8 260.84,457.86 259.78,459.4 258.72,457.86 257.18,456.8 258.72,455.74" fill="#7B68EE"/>
<polygon points="309.24,438.6 310.3,440.14 311.84,441.2 310.3,442.26 309.24,443.8 308.18,442.26 306.64,441.2 308.18,440.14" fill="#7B68EE"/>
<polygon points="358.7,452.3 359.76,453.84 361.3,454.9 359.76,455.96 358.7,457.5 357.64,455.96 356.1,454.9 357.64,453.84" fill="#7B68EE"/>
<polygon points="408.16,477.7 409.22,479.24 410.76,480.3 409.22,481.36 408.16,482.9 407.1,481.36 405.56,480.3 407.1,479.24" fill="#7B68EE"/>
<polygon points="457.62,530.8 458.68,532.34 460.22,533.4 458.68,534.46 457.62,536 456.56,534.46 455.02,533.4 456.56,532.34" fill="#7B68EE"/>
<circle cx="111.4" cy="453.6" r="2.0" fill="#C000C0"/>
<circle cx="160.86" cy="446.6" r="2.0" fill="#C000C0"/>
<circle cx="210.32" cy="448.4" r="2.0" fill="#C000C0"/>
<circle cx="259.78" cy="454.9" r="2.0" fill="#C000C0"/>
<circle cx="309.24" cy="480.3" r="2.0" fill="#C000C0"/>
<circle cx="358.7" cy="514.4" r="2.0" fill="#C000C0"/>
<circle cx="408.16" cy="541.7" r="2.0" fill="#C000C0"/>
<circle cx="457.62" cy="581.6" r="2.0" fill="#C000C0"/>
<rect x="108.9" y="481.2" width="5" height="5" fill="#0000CD"/>
<rect x="158.36" y="465.8" width="5" height="5" fill="#0000CD"/>
<rect x="207.82" y="449.7" width="5" height="5" fill="#0000CD"/>
<rect x="257.28" y="448.8" width="5" height="5" fill="#0000CD"/>
<rect x="306.74" y="450.2" width="5" height="5" fill="#0000CD"/>
<rect x="356.2" y="478.8" width="5" height="5" fill="#0000CD"/>
<rect x="405.66" y="510.4" width="5" height="5" fill="#0000CD"/>
<rect x="455.12" y="556.7" width="5" height="5" fill="#0000CD"/>
<rect x="538" y="383.8" width="21" height="1" fill="#8A2BE2"/>
<rect x="546" y="381.8" width="5" height="5" fill="#8A2BE2"/>
<text transform="translate(563.7,388.2) scale(0.94,1)" style="font-size:11px;fill:#222222">10,3024,143,48,</text>
<rect x="538" y="397.25" width="21" height="1" fill="#BA55D3"/>
<circle cx="548.5" cy="397.75" r="2.5" fill="#BA55D3"/>
<text transform="translate(563.7,401.65) scale(0.94,1)" style="font-size:11px;fill:#222222">172,2893,49,13,</text>
<rect x="538" y="410.7" width="21" height="1" fill="#4169E1"/>
<polygon points="548.5,408.4 551,411.2 548.5,414 546,411.2" fill="#4169E1"/>
<text transform="translate(563.7,415.1) scale(0.94,1)" style="font-size:11px;fill:#222222">2139,1326,58,1,</text>
<rect x="538" y="424.15" width="21" height="1" fill="#C71585"/>
<polygon points="548.5,422.05 551.1,426.95 545.9,426.95" fill="#C71585"/>
<text transform="translate(563.7,428.55) scale(0.94,1)" style="font-size:11px;fill:#222222">2242,1512,166,</text>
<rect x="538" y="437.6" width="21" height="1" fill="#0000FF"/>
<polygon points="550.76,436.97 549.63,438.1 550.76,439.23 549.63,440.36 548.5,439.23 547.37,440.36 546.24,439.23 547.37,438.1 546.24,436.97 547.37,435.84 548.5,436.97 549.63,435.84" fill="#0000FF"/>
<text transform="translate(563.7,442) scale(0.94,1)" style="font-size:11px;fill:#222222">3829,2,40,73</text>
<rect x="538" y="451.05" width="21" height="1" fill="#8A2BE2"/>
<polygon points="548.5,448.75 549.45,450.6 551.3,451.55 549.45,452.5 548.5,454.35 547.55,452.5 545.7,451.55 547.55,450.6" fill="#8A2BE2"/>
<text transform="translate(563.7,455.45) scale(0.94,1)" style="font-size:11px;fill:#222222">3911,2961,44,1,</text>
<rect x="538" y="464.5" width="21" height="1" fill="#DA70D6"/>
<polygon points="548.5,462.2 549.26,463.95 551.16,464.13 549.74,465.4 550.15,467.27 548.5,466.3 546.85,467.27 547.26,465.4 545.84,464.13 547.74,463.95" fill="#DA70D6"/>
<text transform="translate(563.7,468.9) scale(0.94,1)" style="font-size:11px;fill:#222222">3912,47,165,56,</text>
<rect x="538" y="477.95" width="21" height="1" fill="#7B68EE"/>
<polygon points="548.5,475.85 549.56,477.39 551.1,478.45 549.56,479.51 548.5,481.05 547.44,479.51 545.9,478.45 547.44,477.39" fill="#7B68EE"/>
<text transform="translate(563.7,482.35) scale(0.94,1)" style="font-size:11px;fill:#222222">3964,2917,119</text>
<rect x="538" y="491.4" width="21" height="1" fill="#C000C0"/>
<circle cx="548.5" cy="491.9" r="2.0" fill="#C000C0"/>
<text transform="translate(563.7,495.8) scale(0.94,1)" style="font-size:11px;fill:#222222">7,150,79,59</text>
<rect x="538" y="504.85" width="21" height="1" fill="#0000CD"/>
<rect x="546" y="502.85" width="5" height="5" fill="#0000CD"/>
<text transform="translate(563.7,509.25) scale(0.94,1)" style="font-size:11px;fill:#222222">82,26,65,103</text>
</g></svg>
</body></html>
